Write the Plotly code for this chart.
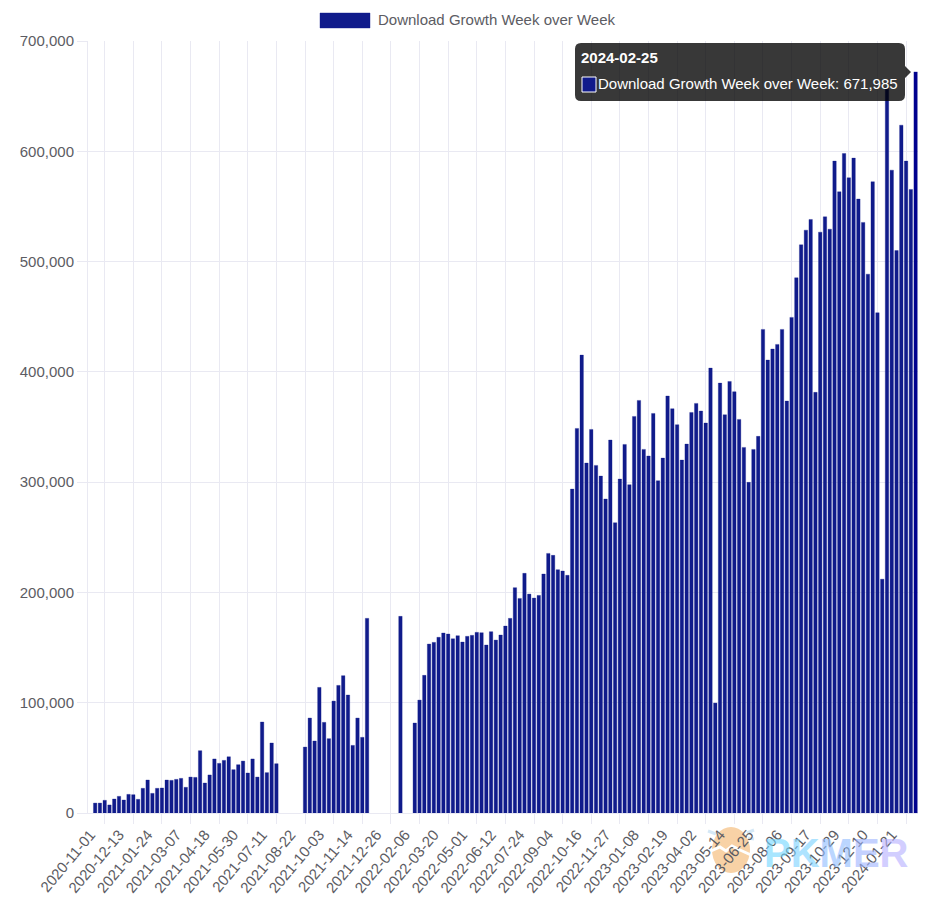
import pandas as pd
import plotly.graph_objects as go

W, H = 930, 901
PLOT_L, PLOT_R, PLOT_T, PLOT_B = 88, 918, 41, 813

# weekly dates, first week has no growth value
weeks = pd.date_range("2020-11-01", "2024-02-25", freq="7D").strftime("%Y-%m-%d").tolist()

values_2020_2021 = [
    None, 9000, 9000, 11500, 7300, 12700, 15100, 11800, 16900, 16600, 12400, 22400, 29900,
    17800, 22400, 22700, 29900, 29600, 30500, 31400, 23300, 32600, 32300, 56500, 27200,
    34500, 49000, 45000, 47700, 51000, 39300, 43800, 47100, 36300, 49000, 32600, 82500,
    36600, 63500, 44700, None, None, None, None, None, 59800, 86100, 65300, 113900, 82200,
    67400, 101500, 115700, 124500, 107000, 61300, 86100, 68600, 176500,
]
values_2022 = [
    None, None, None, None, None, None, 178300, None, None, 81600, 102400, 124800, 153200,
    154700, 159300, 163200, 162300, 158000, 160800, 155000, 160200, 161100, 163800, 163500,
    152300, 164400, 156800, 161400, 169500, 176500, 204300, 194600, 217300, 198500, 194900,
    197300, 216700, 235400, 233600, 220600, 219400, 215500, 293700, 348700, 415200, 317300,
    347800, 315200, 305500, 284700, 338200,
]
values_2023_2024 = [
    263200, 302800, 334200, 297700, 359600, 374100, 329700, 323700, 362300, 301300, 321800,
    378100, 366600, 352100, 320000, 334500, 363200, 371400, 364500, 353600, 403400, 99700,
    389800, 361100, 391300, 382000, 356900, 331500, 299800, 329700, 341500, 438500, 410700,
    420700, 424900, 438500, 373500, 449400, 485300, 515200, 528500, 538200, 381400, 526700,
    540600, 529400, 591100, 563300, 598000, 576000, 593800, 556700, 535500, 488600, 572400,
    453600, 212000, 657000, 582900, 510000, 623700, 591100, 565400, 671985,
]
growth = values_2020_2021 + values_2022 + values_2023_2024

series_name = "Download Growth Week over Week"
label_weeks = weeks[::6][:29]
grid_weeks = weeks[3::6]
y_ticks = [0, 100000, 200000, 300000, 400000, 500000, 600000, 700000]

BAR = "#101b8b"
GRID = "#e9e9f2"
TEXT = "#5c5c63"
FONT = "Liberation Sans"


# paper coordinates are relative to the plot area, these take page pixels
def px(x):
    return (x - PLOT_L) / (PLOT_R - PLOT_L)


def py(y):
    return (PLOT_B - y) / (PLOT_B - PLOT_T)


def box(x0, y0, x1, y1, **kw):
    return dict(type="rect", xref="paper", yref="paper", x0=px(x0), x1=px(x1),
                y0=py(y0), y1=py(y1), **kw)


def label(x, y, text, size=15, color=TEXT, anchor="left", opacity=1):
    return dict(xref="paper", yref="paper", x=px(x), y=py(y), text=text, showarrow=False,
                xanchor=anchor, yanchor="middle", borderpad=0, borderwidth=0, opacity=opacity,
                font=dict(family=FONT, size=size, color=color))


def path(points, closed=True):
    s = "M " + " L ".join(f"{px(a):.5f} {py(b):.5f}" for a, b in points)
    return s + (" Z" if closed else "")


colors = [BAR] * (len(weeks) - 1) + ["#00008f"]

fig = go.Figure(go.Bar(
    x=weeks, y=growth, name=series_name,
    marker=dict(color=colors, line=dict(color="rgba(16,27,139,0.3)", width=1)),
    hoverinfo="skip",
))

# tooltip outline with rounded corners and the pointer to the last bar
tl, tr, tt, tb, r = 575, 905, 43, 101, 6
tip = (f"M {px(tl + r)} {py(tt)} L {px(tr - r)} {py(tt)} "
       f"Q {px(tr)} {py(tt)} {px(tr)} {py(tt + r)} L {px(tr)} {py(66)} L {px(911)} {py(72)} "
       f"L {px(tr)} {py(78)} L {px(tr)} {py(tb - r)} Q {px(tr)} {py(tb)} {px(tr - r)} {py(tb)} "
       f"L {px(tl + r)} {py(tb)} Q {px(tl)} {py(tb)} {px(tl)} {py(tb - r)} "
       f"L {px(tl)} {py(tt + r)} Q {px(tl)} {py(tt)} {px(tl + r)} {py(tt)} Z")

shapes = [
    # legend swatch
    box(320, 13, 370, 28, fillcolor=BAR, line=dict(color="rgba(16,27,139,0.4)", width=1)),
    # logo watermark
    dict(type="circle", xref="paper", yref="paper", layer="below", x0=px(712), x1=px(750),
         y0=py(827), y1=py(873), fillcolor="#f8d2a6", line_width=0),
    dict(type="path", xref="paper", yref="paper", layer="below",
         path=path([(711, 851), (720, 847), (726, 851), (732, 846), (740, 850), (751, 855)], False),
         line=dict(color="white", width=3)),
    dict(type="path", xref="paper", yref="paper", layer="below",
         path=path([(708, 831), (716, 834)], False), line=dict(color="#d5e8f6", width=3)),
    dict(type="path", xref="paper", yref="paper", layer="below",
         path=path([(747, 833), (754, 830)], False), line=dict(color="#d5e8f6", width=3)),
    dict(type="path", xref="paper", yref="paper", layer="below",
         path=path([(748, 838), (754, 839)], False), line=dict(color="#d5e8f6", width=3)),
    # tooltip
    dict(type="path", xref="paper", yref="paper", path=tip,
         fillcolor="rgba(0,0,0,0.78)", line_width=0),
    box(582, 77, 596, 92, fillcolor=BAR, line=dict(color="white", width=1)),
]

# logo letters are see-through so the tick labels stay readable under them
logo = "".join(
    f'<span style="color:{c}">{ch}</span>'
    for ch, c in zip("PKMER", ["#6fd6ff", "#7ad2ff", "#8ebcff", "#9db4ff", "#b5aeff"])
)

annotations = [
    label(378, 20, series_name),
    label(581, 58, "<b>2024-02-25</b>", color="white"),
    label(598, 84, f"{series_name}: {growth[-1]:,}", color="white"),
    label(764, 853, f"<b>{logo}</b>", size=40, opacity=0.6),
]

fig.update_layout(
    width=W, height=H,
    margin=dict(l=PLOT_L, r=W - PLOT_R, t=PLOT_T, b=H - PLOT_B, autoexpand=False),
    showlegend=False,
    plot_bgcolor="white", paper_bgcolor="white",
    bargap=0.28,
    font=dict(family=FONT, size=15, color=TEXT),
    shapes=shapes, annotations=annotations,
)
fig.update_xaxes(
    type="date",
    range=["2020-10-28 12:00", "2024-02-28 12:00"],
    tickmode="array", tickvals=label_weeks, ticktext=label_weeks,
    tickangle=-50, ticks="outside", ticklen=6, tickcolor="rgba(0,0,0,0)",
    showgrid=False, zeroline=False,
    tickfont=dict(size=15, color=TEXT),
    minor=dict(tickmode="array", tickvals=grid_weeks, showgrid=True, gridcolor=GRID,
               gridwidth=1, ticks="outside", ticklen=10, tickcolor=GRID, tickwidth=1),
    showline=True, linecolor=GRID, linewidth=1,
)
fig.update_yaxes(
    range=[0, 700000], tickmode="array", tickvals=y_ticks, tickformat=",",
    showgrid=True, gridcolor=GRID, gridwidth=1, zeroline=False,
    ticks="outside", ticklen=10, tickcolor=GRID, tickwidth=1,
    showline=True, linecolor=GRID, linewidth=1,
    tickfont=dict(size=15, color=TEXT),
)

fig.write_html("out.html", config=dict(displayModeBar=False),
               post_script="document.body.style.margin='0';")
